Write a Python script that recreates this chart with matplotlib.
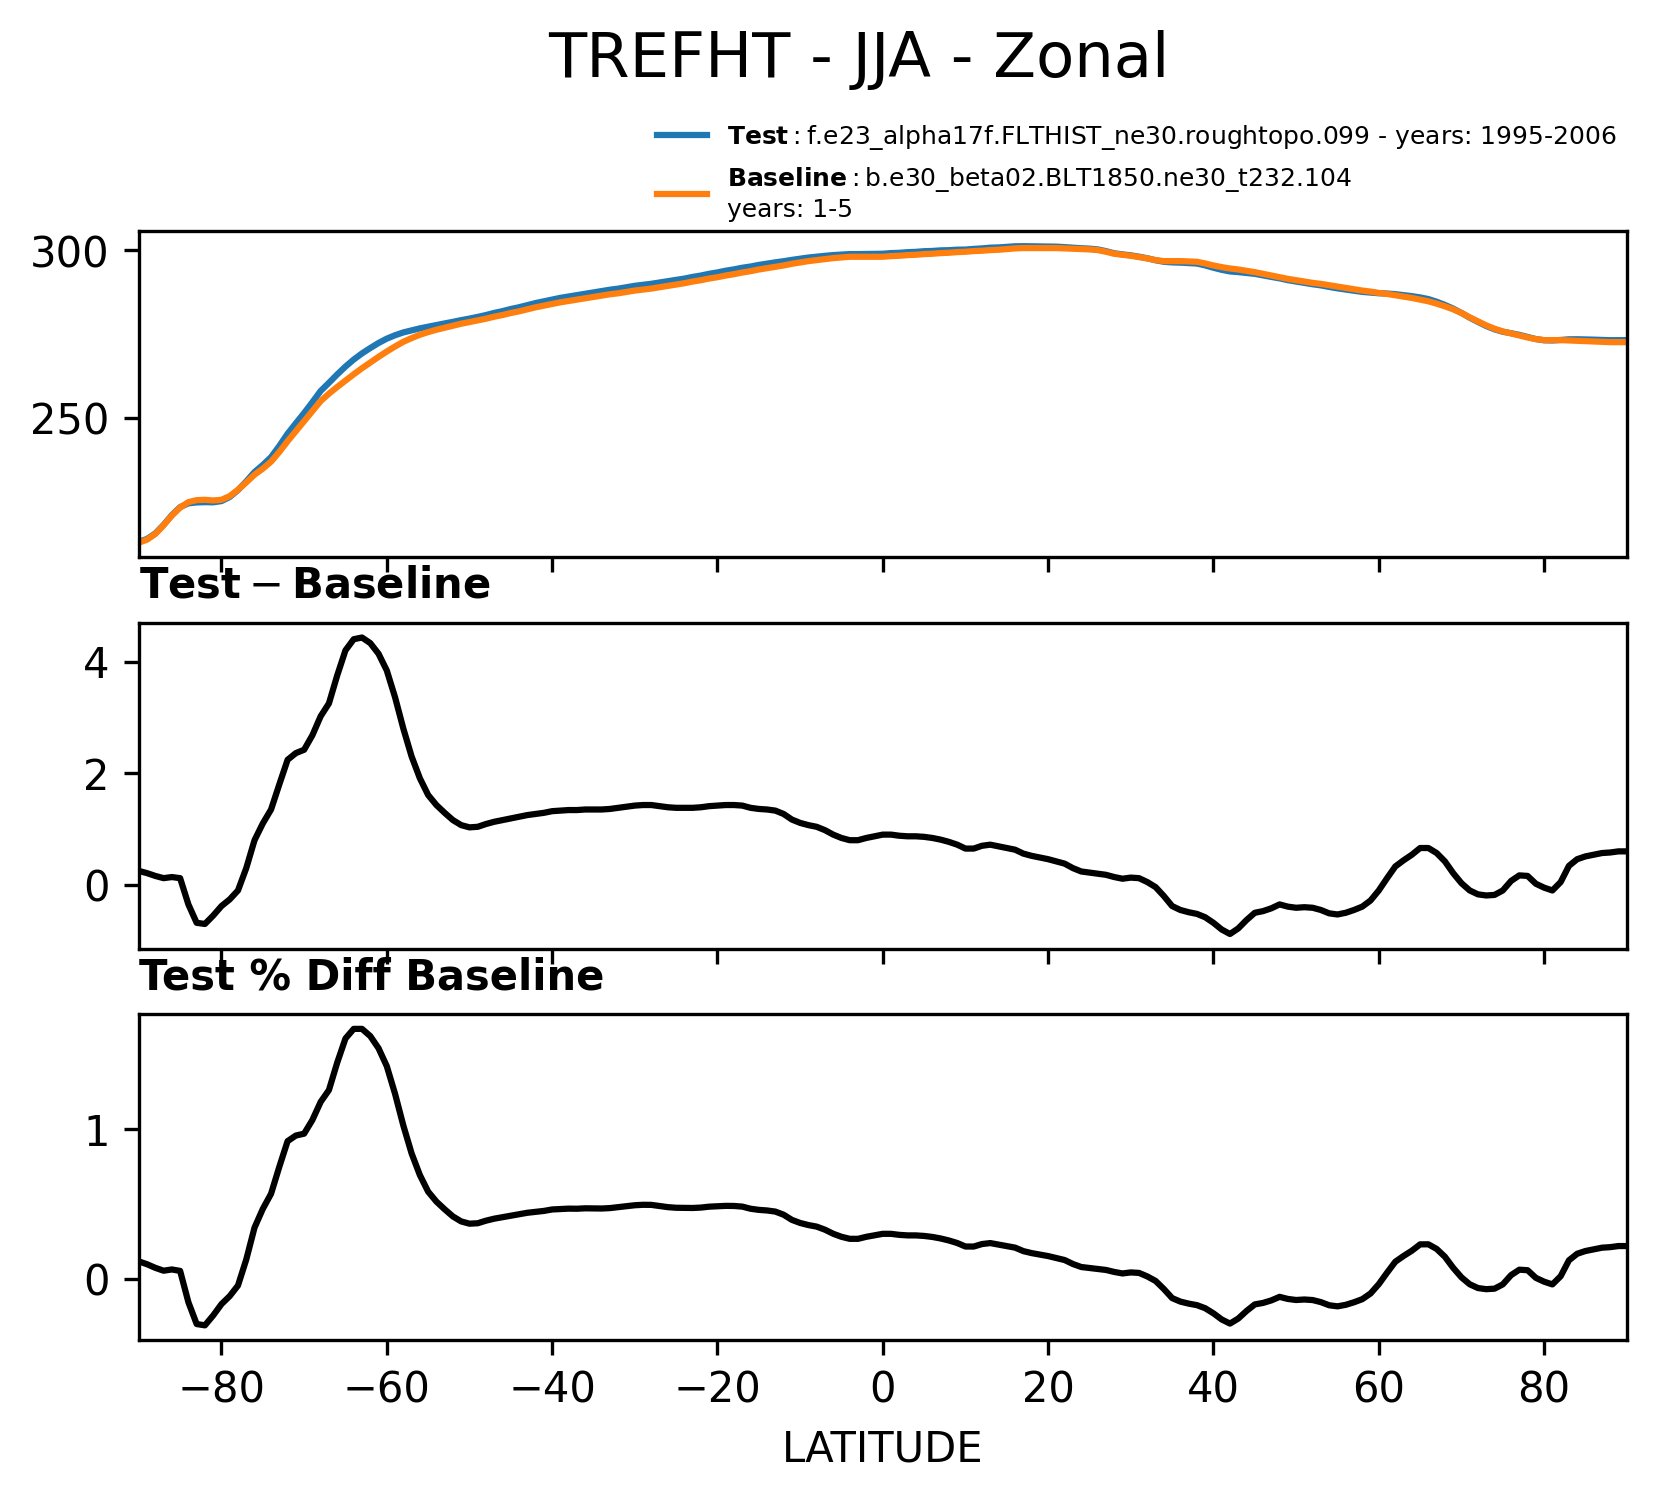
import matplotlib
matplotlib.use("Agg")
import matplotlib.pyplot as plt
from matplotlib.lines import Line2D
import numpy as np

# latitude grid (deg), 1 degree spacing
lat = np.arange(-90, 91, 1)

# baseline zonal mean TREFHT (K), rows of 10 from -90
base = [212.7, 213.6, 215.3, 217.9, 220.8, 223.2, 224.8, 225.4, 225.5, 225.3,
        225.5, 226.6, 228.5, 230.7, 233.0, 234.8, 236.9, 239.8, 243.0, 246.0,
        249.0, 252.0, 255.0, 257.2, 259.2, 261.1, 263.0, 264.8, 266.5, 268.2,
        269.8, 271.3, 272.7, 273.8, 274.8, 275.6, 276.3, 276.9, 277.5, 278.1,
        278.6, 279.1, 279.6, 280.2, 280.7, 281.3, 281.8, 282.4, 283.0, 283.5,
        284.0, 284.5, 284.9, 285.3, 285.7, 286.1, 286.5, 286.9, 287.2, 287.6,
        288.0, 288.3, 288.6, 289.0, 289.4, 289.8, 290.2, 290.7, 291.1, 291.6,
        292.0, 292.5, 292.9, 293.4, 293.8, 294.3, 294.7, 295.1, 295.5, 296.0,
        296.4, 296.8, 297.1, 297.4, 297.7, 297.9, 298.1, 298.1, 298.1, 298.1,
        298.1, 298.3, 298.4, 298.6, 298.7, 298.9, 299.0, 299.2, 299.3, 299.5,
        299.6, 299.8, 299.9, 300.1, 300.2, 300.4, 300.6, 300.7, 300.7, 300.7,
        300.7, 300.7, 300.6, 300.5, 300.4, 300.3, 300.1, 299.6, 299.0, 298.7,
        298.4, 298.0, 297.6, 297.1, 296.8, 296.8, 296.8, 296.7, 296.6, 296.1,
        295.5, 295.0, 294.6, 294.3, 293.9, 293.5, 293.0, 292.5, 292.0, 291.5,
        291.1, 290.7, 290.3, 290.0, 289.6, 289.2, 288.8, 288.4, 288.0, 287.7,
        287.3, 287.0, 286.6, 286.2, 285.8, 285.3, 284.8, 284.1, 283.3, 282.4,
        281.3, 280.0, 278.8, 277.6, 276.6, 275.8, 275.2, 274.6, 274.0, 273.5,
        273.2, 273.2, 273.2, 273.1, 273.0, 272.9, 272.8, 272.7, 272.6, 272.6,
        272.6]

# test - baseline (K), rows of 10 from -90
diff = [0.25, 0.21, 0.16, 0.12, 0.14, 0.12, -0.35, -0.68, -0.70, -0.55,
        -0.38, -0.26, -0.10, 0.30, 0.80, 1.10, 1.35, 1.80, 2.24, 2.36,
        2.42, 2.68, 3.02, 3.25, 3.75, 4.20, 4.40, 4.43, 4.33, 4.14,
        3.84, 3.36, 2.80, 2.30, 1.91, 1.61, 1.43, 1.29, 1.16, 1.07,
        1.03, 1.04, 1.09, 1.13, 1.16, 1.19, 1.22, 1.25, 1.27, 1.29,
        1.32, 1.33, 1.34, 1.34, 1.35, 1.35, 1.35, 1.36, 1.38, 1.40,
        1.42, 1.43, 1.43, 1.41, 1.39, 1.38, 1.38, 1.38, 1.39, 1.41,
        1.42, 1.43, 1.43, 1.42, 1.38, 1.36, 1.35, 1.33, 1.27, 1.17,
        1.11, 1.07, 1.04, 0.98, 0.90, 0.84, 0.80, 0.80, 0.84, 0.87,
        0.90, 0.90, 0.88, 0.87, 0.87, 0.86, 0.84, 0.81, 0.77, 0.72,
        0.65, 0.65, 0.70, 0.72, 0.69, 0.66, 0.63, 0.56, 0.52, 0.49,
        0.46, 0.42, 0.38, 0.30, 0.24, 0.22, 0.20, 0.18, 0.14, 0.11,
        0.13, 0.12, 0.05, -0.04, -0.20, -0.38, -0.45, -0.49, -0.52, -0.58,
        -0.68, -0.80, -0.88, -0.78, -0.63, -0.50, -0.47, -0.42, -0.35, -0.39,
        -0.41, -0.40, -0.41, -0.45, -0.51, -0.53, -0.50, -0.45, -0.39, -0.28,
        -0.10, 0.12, 0.33, 0.44, 0.54, 0.66, 0.66, 0.57, 0.42, 0.21,
        0.03, -0.10, -0.17, -0.19, -0.18, -0.10, 0.07, 0.17, 0.16, 0.02,
        -0.05, -0.10, 0.05, 0.34, 0.46, 0.51, 0.54, 0.57, 0.58, 0.60,
        0.60]

base = np.array(base)
diff = np.array(diff)
test = base + diff
pct = (test - base) / base * 100.0

test_lbl = r"$\mathbf{Test}:$" + "f.e23_alpha17f.FLTHIST_ne30.roughtopo.099 - years: 1995-2006"
base_lbl = r"$\mathbf{Baseline}:$" + "b.e30_beta02.BLT1850.ne30_t232.104\nyears: 1-5"

line = Line2D([0], [0], label=test_lbl, color="#1f77b4")
line2 = Line2D([0], [0], label=base_lbl, color="#ff7f0e")

fig, ax = plt.subplots(nrows=3)
st = fig.suptitle("TREFHT - JJA - Zonal", fontsize=15)
st.set_y(1.02)

ax[0].plot(lat, test, color="#1f77b4")
ax[0].plot(lat, base, color="#ff7f0e")
fig.legend(handles=[line, line2], bbox_to_anchor=(-0.15, 0.87, 1.05, .102), loc="right",
           borderaxespad=0.0, fontsize=6, frameon=False)

ax[1].plot(lat, diff, color="k")
ax[1].set_title("$\\mathbf{Test} - \\mathbf{Baseline}$", loc='left', fontsize=10)

ax[2].plot(lat, pct, color="k")
ax[2].set_title("Test % Diff Baseline", loc='left', fontsize=10, fontweight="bold")
ax[2].set_xlabel("LATITUDE")

for a in ax:
    a.set_xlim([-90, 90])
    a.label_outer()

fig.savefig("out.png", bbox_inches='tight', dpi=300)
